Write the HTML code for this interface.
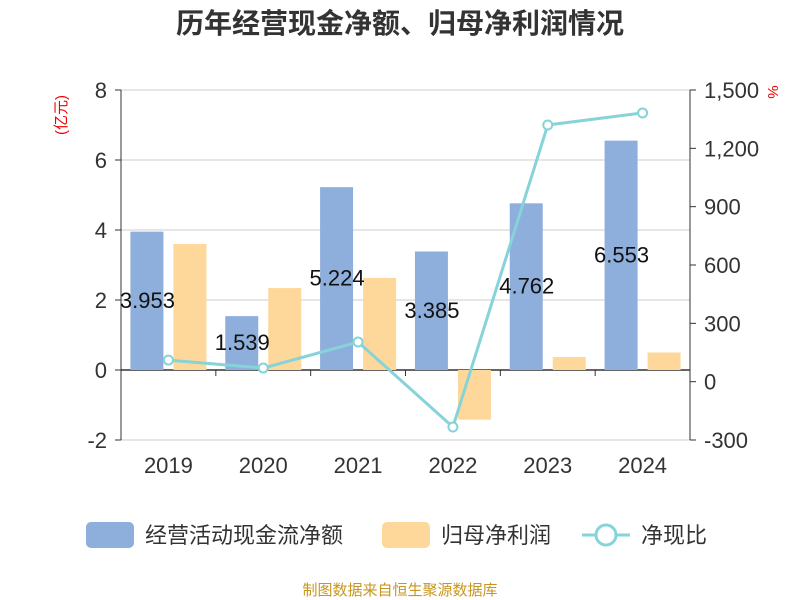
<!DOCTYPE html>
<html><head><meta charset="utf-8">
<style>
body{margin:0;background:#fff;}
svg{display:block;font-family:"Liberation Sans","Noto Sans CJK SC",sans-serif;}
</style></head>
<body>
<svg id="chart" width="800" height="600">
<text x="400" y="33" text-anchor="middle" font-size="28" font-weight="bold" fill="#333">历年经营现金净额、归母净利润情况</text>
<text transform="translate(66,115) rotate(-90)" text-anchor="middle" font-size="15" fill="#e00">(亿元)</text>
<text transform="translate(768,92) rotate(90)" text-anchor="middle" font-size="15" fill="#e00">%</text>
<g id="grid"></g><g id="bars"></g><g id="line"></g><g id="labels"></g>
<g>
<rect x="86" y="522" width="48" height="26" rx="5" fill="#8eaedb"/>
<text x="145" y="543" font-size="22" fill="#333">经营活动现金流净额</text>
<rect x="382" y="522" width="48" height="26" rx="5" fill="#fdd89a"/>
<text x="441" y="543" font-size="22" fill="#333">归母净利润</text>
<line x1="582" y1="535" x2="630" y2="535" stroke="#86d3d9" stroke-width="3"/>
<circle cx="606" cy="535" r="10" fill="#fff" stroke="#86d3d9" stroke-width="3"/>
<text x="641" y="543" font-size="22" fill="#333">净现比</text>
</g>
<text x="400" y="595" text-anchor="middle" font-size="15" fill="#c8961e">制图数据来自恒生聚源数据库</text>
</svg>
<script>
const categories=["2019","2020","2021","2022","2023","2024"];
const cashFlow=[3.953,1.539,5.224,3.385,4.762,6.553];
const netProfit=[3.6,2.34,2.63,-1.42,0.37,0.5];
const ratio=[111,70,204,-233,1320,1382];
const leftTicks=[-2,0,2,4,6,8];
const rightTicks=[-300,0,300,600,900,1200,1500];
const rightTickLabels=["-300","0","300","600","900","1,200","1,500"];
const NS="http://www.w3.org/2000/svg";
const X0=121,X1=690,Y0=90,Y1=440;
const yL=v=>Y1-(v+2)/10*(Y1-Y0);
const yR=v=>Y1-(v+300)/1800*(Y1-Y0);
const bw=(X1-X0)/categories.length;
const xC=i=>X0+bw*(i+0.5);
function mk(tag,attrs,parent,txt){const e=document.createElementNS(NS,tag);for(const k in attrs)e.setAttribute(k,attrs[k]);if(txt!==undefined)e.textContent=txt;document.getElementById(parent).appendChild(e);return e;}
leftTicks.forEach(t=>{
 const g=mk("line",{x1:X0,x2:X1,y1:yL(t),y2:yL(t),stroke:t===0?"#333":"#ccc","stroke-width":t===0?1.5:1},"grid");
 
 
 const tk=mk("line",{x1:X0-6,x2:X0,y1:yL(t),y2:yL(t),stroke:"#333"},"grid");
 
 
 const l=mk("text",{x:X0-14,y:yL(t)+8,"text-anchor":"end","font-size":22,fill:"#333"},"grid",String(t));
 
 
});
rightTicks.forEach((t,i)=>{
 const tk=mk("line",{x1:X1,x2:X1+6,y1:yR(t),y2:yR(t),stroke:"#333"},"grid");
 
 
 const l=mk("text",{x:X1+14,y:yR(t)+8,"font-size":22,fill:"#333"},"grid",rightTickLabels[i]);
 
 
});
const la=mk("line",{x1:X0,x2:X0,y1:Y0,y2:Y1,stroke:"#333"},"grid");


const ra=mk("line",{x1:X1,x2:X1,y1:Y0,y2:Y1,stroke:"#333"},"grid");


categories.forEach((c,i)=>{
 const tk=mk("line",{x1:X0+bw*(i+1),x2:X0+bw*(i+1),y1:yL(0),y2:yL(0)+6,stroke:"#333"},"grid");
 
 
 const l=mk("text",{x:xC(i),y:473,"text-anchor":"middle","font-size":22,fill:"#333"},"grid",c);
 
 
 const v=cashFlow[i];
 const b=mk("rect",{x:xC(i)-38,y:Math.min(yL(v),yL(0)),width:33,height:Math.abs(yL(v)-yL(0)),fill:"#8eaedb"},"bars");
 
 
 const p=netProfit[i];
 const b2=mk("rect",{x:xC(i)+5,y:Math.min(yL(p),yL(0)),width:33,height:Math.abs(yL(p)-yL(0)),fill:"#fdd89a"},"bars");
 
 
 const t=mk("text",{x:xC(i)-21,y:(yL(v)+yL(0))/2+7,"text-anchor":"middle","font-size":22,fill:"#111"},"labels",v.toFixed(3));
 
 
});
const pl=mk("polyline",{points:ratio.map((r,i)=>xC(i)+","+yR(r)).join(" "),fill:"none",stroke:"#86d3d9","stroke-width":3},"line");


ratio.forEach((r,i)=>{
 const c=mk("circle",{cx:xC(i),cy:yR(r),r:4.5,fill:"#fff",stroke:"#86d3d9","stroke-width":2},"line");
 
 
});
</script>
</body></html>
